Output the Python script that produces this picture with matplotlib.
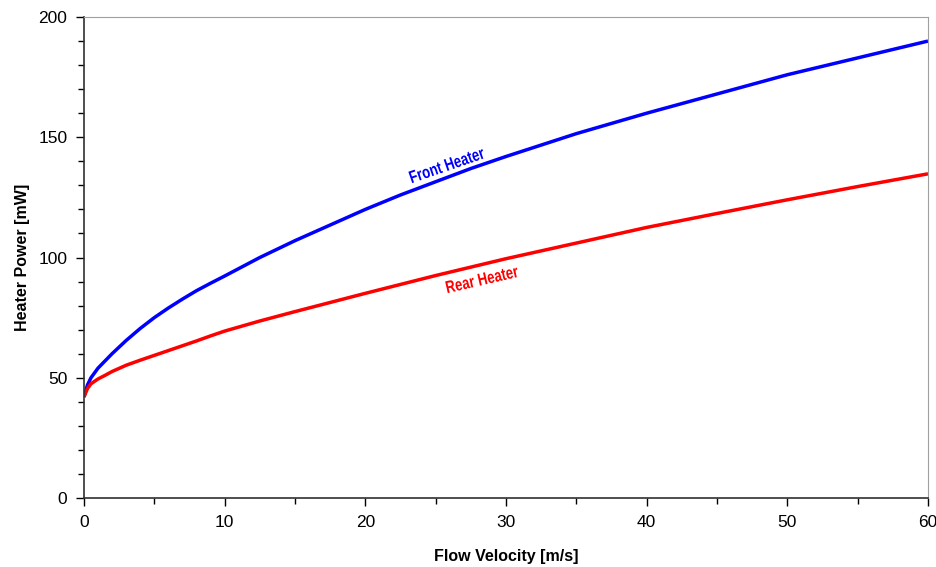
import numpy as np
import matplotlib
matplotlib.use('Agg')
import matplotlib.pyplot as plt
from matplotlib.ticker import MultipleLocator
from matplotlib.textpath import TextPath
from matplotlib.patches import PathPatch
from matplotlib.font_manager import FontProperties
from matplotlib.transforms import Affine2D, ScaledTranslation

plt.rcParams['font.family'] = ['Liberation Sans', 'DejaVu Sans']

# values
velocity = [0, 0.25, 0.5, 1, 1.5, 2, 3, 4, 5, 6, 7, 8, 9, 10, 12.5, 15, 17.5, 20,
            22.5, 25, 27.5, 30, 35, 40, 45, 50, 55, 60]
front_power = [42, 47, 50, 54, 57, 60, 65.5, 70.5, 75, 79, 82.7, 86.2, 89.3, 92.3, 100, 107,
               113.5, 120, 126, 131.5, 137, 142, 151.5, 160, 168, 176, 183, 190]
rear_power = [42, 45.5, 47.5, 49.5, 51, 52.6, 55.2, 57.3, 59.3, 61.3, 63.3, 65.3, 67.4, 69.4,
              73.6, 77.5, 81.3, 85.1, 88.8, 92.5, 96, 99.5, 106, 112.5, 118.3, 124, 129.5, 134.8]

fig = plt.figure(figsize=(9.37, 5.67), dpi=100)
ax = fig.add_axes([0.0896, 0.1217, 0.9008, 0.8483])

ax.plot(velocity, front_power, color='#0000ff', lw=2.5, solid_capstyle='butt')
ax.plot(velocity, rear_power, color='#ff0000', lw=2.5, solid_capstyle='butt')


def narrow_label(text, x, y, color, angle, size=12.5, squeeze=0.76):
    # condensed bold text drawn as a path, centred on (x, y) in data coords
    prop = FontProperties(family='Liberation Sans', weight='bold')
    tp = TextPath((0, 0), text, size=size, prop=prop)
    bb = tp.get_extents()
    tr = (Affine2D().translate(-(bb.x0 + bb.x1) / 2, -(bb.y0 + bb.y1) / 2)
          .scale(squeeze / 72, 1 / 72).rotate_deg(angle)
          + fig.dpi_scale_trans + ScaledTranslation(x, y, ax.transData))
    ax.add_patch(PathPatch(tp, transform=tr, facecolor=color, edgecolor='none'))


narrow_label('Front Heater', 25.8, 138.5, '#0000ff', 19)
narrow_label('Rear Heater', 28.3, 91.0, '#ff0000', 13)

ax.set_xlim(0, 60)
ax.set_ylim(0, 200)
ax.xaxis.set_major_locator(MultipleLocator(10))
ax.xaxis.set_minor_locator(MultipleLocator(5))
ax.yaxis.set_major_locator(MultipleLocator(50))
ax.yaxis.set_minor_locator(MultipleLocator(10))
ax.tick_params(which='major', direction='out', length=6, width=1, labelsize=12.5, pad=6)
ax.tick_params(which='minor', direction='out', length=4, width=1)

for side in ['top', 'right']:
    ax.spines[side].set_color('#a0a0a0')
for side in ['left', 'bottom']:
    ax.spines[side].set_color('#303030')
    ax.spines[side].set_linewidth(1.2)

ax.set_xlabel('Flow Velocity [m/s]', fontsize=11.5, fontweight='bold', labelpad=14)
ax.set_ylabel('Heater Power [mW]', fontsize=11.5, fontweight='bold', labelpad=6)

fig.savefig('out.png', dpi=100)
